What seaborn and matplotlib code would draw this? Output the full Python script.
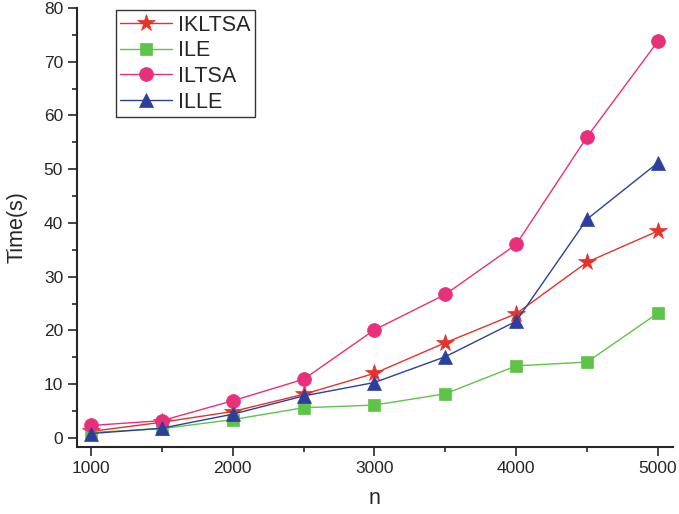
import pandas as pd
import numpy as np
import matplotlib.pyplot as plt
import seaborn as sns

sns.set_style("ticks")
plt.rcParams['font.family'] = ['Liberation Sans', 'DejaVu Sans']

# values
n = [1000, 1500, 2000, 2500, 3000, 3500, 4000, 4500, 5000]
ikltsa = [1.2, 2.9, 4.9, 8.1, 12.0, 17.7, 23.1, 32.7, 38.5]
ile = [1.0, 1.7, 3.4, 5.6, 6.1, 8.2, 13.4, 14.1, 23.2]
iltsa = [2.3, 3.2, 6.9, 10.9, 20.1, 26.7, 36.0, 56.0, 73.8]
ille = [0.8, 1.8, 4.4, 7.8, 10.3, 15.1, 21.7, 40.7, 51.2]

methods = ["IKLTSA", "ILE", "ILTSA", "ILLE"]
colors = {"IKLTSA": "#e5322b", "ILE": "#5ec448", "ILTSA": "#e8307a", "ILLE": "#2d3f9c"}
markers = {"IKLTSA": "*", "ILE": "s", "ILTSA": "o", "ILLE": "^"}
sizes = {"IKLTSA": 13, "ILE": 9, "ILTSA": 10, "ILLE": 10}

df = pd.DataFrame({
    "n": n * 4,
    "Time": ikltsa + ile + iltsa + ille,
    "method": sum([[m] * len(n) for m in methods], []),
})

fig = plt.figure(figsize=(6.79, 5.14), dpi=100)
ax = fig.add_axes([0.1134, 0.1304, 0.8776, 0.854])

for m in methods:
    sns.lineplot(data=df[df.method == m], x="n", y="Time", ax=ax,
                 color=colors[m], marker=markers[m], markersize=sizes[m],
                 markeredgecolor=colors[m], markeredgewidth=0.5,
                 linewidth=1, label=m)

ax.set_xlim(901, 5106)
ax.set_ylim(-1.7, 80)
ax.set_xticks(range(1000, 5001, 1000))
ax.set_xticks(range(1000, 5001, 500), minor=True)
ax.set_yticks(range(0, 81, 10))
ax.set_yticks(range(0, 81, 5), minor=True)
ax.tick_params(axis='both', which='major', labelsize=12.5, length=6.5, width=1.2)
ax.tick_params(axis='both', which='minor', length=3.5, width=1.2)
ax.set_xticklabels([str(v) for v in range(1000, 5001, 1000)])
for s in ['left', 'bottom']:
    ax.spines[s].set_linewidth(1.5)
sns.despine(ax=ax)

ax.set_xlabel("n", fontsize=15.5, labelpad=9)
ax.set_ylabel("Time(s)", fontsize=15.5, labelpad=12)

leg = ax.legend(loc="upper left", bbox_to_anchor=(0.065, 0.995), fontsize=15.5,
                frameon=True, fancybox=False, edgecolor="black",
                handlelength=2.4, borderpad=0.2, labelspacing=0.22,
                handletextpad=0.3, borderaxespad=0)
leg.get_frame().set_linewidth(1)

fig.savefig("out.png", dpi=100)
